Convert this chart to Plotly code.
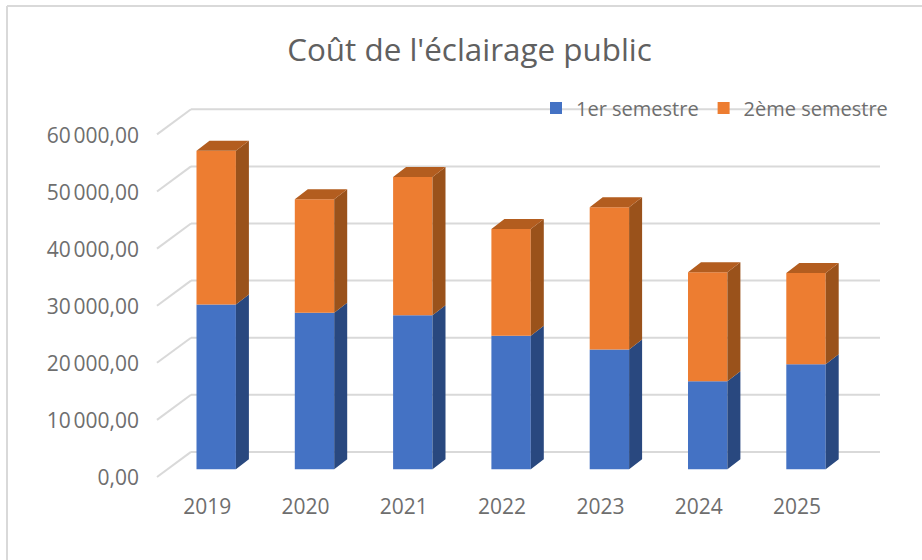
import plotly.graph_objects as go

# ---- data ----
years = ["2019", "2020", "2021", "2022", "2023", "2024", "2025"]
semester_1 = [28860, 27400, 27000, 23400, 21000, 15400, 18400]
semester_2 = [26940, 19900, 24200, 18700, 24900, 19100, 16000]
value_ticks = [0, 10000, 20000, 30000, 40000, 50000, 60000]
value_labels = ["0,00", "10\u202f000,00", "20\u202f000,00", "30\u202f000,00",
                "40\u202f000,00", "50\u202f000,00", "60\u202f000,00"]

# ---- layout geometry (pixels) ----
W, H = 922, 560
PL, PR, PT, PB = 140, 915, 85, 492      # plot-area edges
X0_PX, STEP_PX = 216.2, 98.3            # first bar centre, bar spacing
Y0_PX, PX_PER_UNIT = 469.3, 57.1 / 10000

xr = [(PL - X0_PX) / STEP_PX, (PR - X0_PX) / STEP_PX]
yr = [(Y0_PX - PB) / PX_PER_UNIT, (Y0_PX - PT) / PX_PER_UNIT]

dxu = lambda px: px / STEP_PX
dyu = lambda px: px / PX_PER_UNIT

BAR_W = dxu(39.4)
DEPTH_X, DEPTH_Y = dxu(13), dyu(10)
LABEL_SHIFT = dxu(-9)

BLUE, BLUE_SIDE = "#4472C4", "#29487F"
ORANGE, ORANGE_SIDE, ORANGE_TOP = "#ED7D31", "#9A521B", "#B35D1F"
GRID = "#D9D9D9"
TEXT = "#6E6E6E"
FONT = "Open Sans"

idx = list(range(len(years)))
totals = [a + b for a, b in zip(semester_1, semester_2)]


def side_polys(bottoms, tops):
    xs, ys = [], []
    for i, b, t in zip(idx, bottoms, tops):
        r = i + BAR_W / 2
        xs += [r, r + DEPTH_X, r + DEPTH_X, r, r, None]
        ys += [b, b + DEPTH_Y, t + DEPTH_Y, t, b, None]
    return xs, ys


def top_polys(tops):
    xs, ys = [], []
    for i, t in zip(idx, tops):
        l, r = i - BAR_W / 2, i + BAR_W / 2
        xs += [l, r, r + DEPTH_X, l + DEPTH_X, l, None]
        ys += [t, t, t + DEPTH_Y, t + DEPTH_Y, t, None]
    return xs, ys


fig = go.Figure()
fig.add_bar(x=idx, y=semester_1, width=BAR_W, name="1er semestre",
            marker=dict(color=BLUE, line_width=0))
fig.add_bar(x=idx, y=semester_2, base=semester_1, width=BAR_W, name="2ème semestre",
            marker=dict(color=ORANGE, line_width=0))

for (xs, ys), colour in [
    (side_polys([0] * len(idx), semester_1), BLUE_SIDE),
    (side_polys(semester_1, totals), ORANGE_SIDE),
    (top_polys(totals), ORANGE_TOP),
]:
    fig.add_scatter(x=xs, y=ys, mode="lines", fill="toself", fillcolor=colour,
                    line=dict(width=0, color=colour), showlegend=False, hoverinfo="skip")

# walls: back-wall gridlines and the diagonal side-wall lines
BACK_Y, FRONT_Y, LABEL_Y = dyu(17.4), dyu(-7.7), dyu(-8.7)
WALL_L, WALL_R = (157 - X0_PX) / STEP_PX, (191 - X0_PX) / STEP_PX
GRID_R = (880 - X0_PX) / STEP_PX
shapes = []
for v in value_ticks:
    shapes.append(dict(type="line", layer="below", xref="x", yref="y",
                       x0=WALL_R, x1=GRID_R, y0=v + BACK_Y, y1=v + BACK_Y,
                       line=dict(color=GRID, width=2)))
    shapes.append(dict(type="line", layer="below", xref="x", yref="y",
                       x0=WALL_L, x1=WALL_R, y0=v + FRONT_Y, y1=v + BACK_Y,
                       line=dict(color=GRID, width=2)))
# chart frame
shapes.append(dict(type="line", xref="paper", yref="paper", layer="below",
                   x0=(7 - PL) / (PR - PL), x1=(7 - PL) / (PR - PL),
                   y0=(PB - H) / (PB - PT), y1=(PB - 6) / (PB - PT),
                   line=dict(color=GRID, width=2)))
shapes.append(dict(type="line", xref="paper", yref="paper", layer="below",
                   x0=(7 - PL) / (PR - PL), x1=(W - PL) / (PR - PL),
                   y0=(PB - 6) / (PB - PT), y1=(PB - 6) / (PB - PT),
                   line=dict(color=GRID, width=2)))

fig.update_layout(
    width=W, height=H, autosize=False,
    margin=dict(l=PL, r=W - PR, t=PT, b=H - PB, pad=0),
    paper_bgcolor="white", plot_bgcolor="rgba(0,0,0,0)",
    barmode="overlay", showlegend=True, shapes=shapes,
    font=dict(family=FONT, color=TEXT, size=21),
    title=dict(text="Coût de l'éclairage public", x=469.5 / W, xanchor="center",
               y=1 - 50 / H, yanchor="middle",
               font=dict(family=FONT, size=31.4, color="#606060")),
    legend=dict(orientation="h", x=(536 - PL) / (PR - PL), xref="paper",
                y=(PB - 108) / (PB - PT), yanchor="middle", xanchor="left",
                bgcolor="rgba(0,0,0,0)",
                font=dict(family=FONT, size=20, color=TEXT), traceorder="normal"),
    xaxis=dict(range=xr, tickmode="array", tickvals=[i + LABEL_SHIFT for i in idx],
               ticktext=years, showgrid=False, zeroline=False, showline=False,
               ticks="", ticklen=0, tickfont=dict(family=FONT, size=21, color=TEXT)),
    yaxis=dict(range=yr, tickmode="array", tickvals=[v + LABEL_Y for v in value_ticks],
               ticktext=value_labels, showgrid=False, zeroline=False, showline=False,
               ticks="", tickfont=dict(family=FONT, size=21, color=TEXT)),
)

fig.write_html("out.html", config={"displayModeBar": False},
               post_script="document.body.style.margin='0';")
